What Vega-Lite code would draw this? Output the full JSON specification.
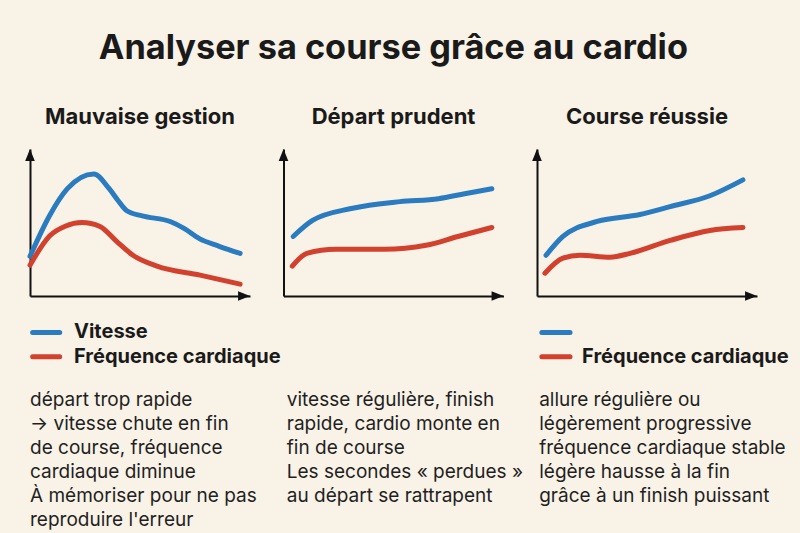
{
  "$schema": "https://vega.github.io/schema/vega-lite/v6.json",
  "background": "#f9f2e7",
  "padding": {"left": 20, "top": 31, "right": 60, "bottom": 30},
  "title": {"text": "Analyser sa course grâce au cardio", "fontSize": 34.3, "font": "Inter", "fontWeight": "bold", "color": "#1a1a1a", "anchor": "middle", "offset": 40, "dx": -11},
  "datasets": {
    "curves": [
      {"panel": "A", "series": "Vitesse", "t": 0, "v": 2.7},
      {"panel": "A", "series": "Vitesse", "t": 0.9, "v": 5.5},
      {"panel": "A", "series": "Vitesse", "t": 1.7, "v": 7.3},
      {"panel": "A", "series": "Vitesse", "t": 2.9, "v": 8.3},
      {"panel": "A", "series": "Vitesse", "t": 3.6, "v": 7.3},
      {"panel": "A", "series": "Vitesse", "t": 4.0, "v": 6.5},
      {"panel": "A", "series": "Vitesse", "t": 4.4, "v": 5.8},
      {"panel": "A", "series": "Vitesse", "t": 5.1, "v": 5.45},
      {"panel": "A", "series": "Vitesse", "t": 6.4, "v": 5.05},
      {"panel": "A", "series": "Vitesse", "t": 7.0, "v": 4.6},
      {"panel": "A", "series": "Vitesse", "t": 7.7, "v": 3.9},
      {"panel": "A", "series": "Vitesse", "t": 8.6, "v": 3.38},
      {"panel": "A", "series": "Vitesse", "t": 9.55, "v": 2.9},
      {"panel": "A", "series": "Fréquence cardiaque", "t": 0, "v": 2.1},
      {"panel": "A", "series": "Fréquence cardiaque", "t": 0.9, "v": 4.1},
      {"panel": "A", "series": "Fréquence cardiaque", "t": 1.6, "v": 4.75},
      {"panel": "A", "series": "Fréquence cardiaque", "t": 2.36, "v": 5.0},
      {"panel": "A", "series": "Fréquence cardiaque", "t": 3.18, "v": 4.73},
      {"panel": "A", "series": "Fréquence cardiaque", "t": 3.95, "v": 3.7},
      {"panel": "A", "series": "Fréquence cardiaque", "t": 4.68, "v": 2.77},
      {"panel": "A", "series": "Fréquence cardiaque", "t": 5.77, "v": 2.03},
      {"panel": "A", "series": "Fréquence cardiaque", "t": 7.73, "v": 1.42},
      {"panel": "A", "series": "Fréquence cardiaque", "t": 9.55, "v": 0.81},
      {"panel": "B", "series": "Vitesse", "t": 0.44, "v": 4.05},
      {"panel": "B", "series": "Vitesse", "t": 1.32, "v": 5.14},
      {"panel": "B", "series": "Vitesse", "t": 3.08, "v": 5.95},
      {"panel": "B", "series": "Vitesse", "t": 5.29, "v": 6.42},
      {"panel": "B", "series": "Vitesse", "t": 7.05, "v": 6.62},
      {"panel": "B", "series": "Vitesse", "t": 8.24, "v": 6.96},
      {"panel": "B", "series": "Vitesse", "t": 9.47, "v": 7.3},
      {"panel": "B", "series": "Fréquence cardiaque", "t": 0.4, "v": 2.03},
      {"panel": "B", "series": "Fréquence cardiaque", "t": 1.06, "v": 2.9},
      {"panel": "B", "series": "Fréquence cardiaque", "t": 2.38, "v": 3.18},
      {"panel": "B", "series": "Fréquence cardiaque", "t": 4.58, "v": 3.18},
      {"panel": "B", "series": "Fréquence cardiaque", "t": 6.48, "v": 3.45},
      {"panel": "B", "series": "Fréquence cardiaque", "t": 7.93, "v": 4.05},
      {"panel": "B", "series": "Fréquence cardiaque", "t": 9.47, "v": 4.66},
      {"panel": "C", "series": "Vitesse", "t": 0.41, "v": 2.77},
      {"panel": "C", "series": "Vitesse", "t": 1.18, "v": 4.05},
      {"panel": "C", "series": "Vitesse", "t": 2.73, "v": 5.07},
      {"panel": "C", "series": "Vitesse", "t": 4.68, "v": 5.54},
      {"panel": "C", "series": "Vitesse", "t": 6.05, "v": 6.08},
      {"panel": "C", "series": "Vitesse", "t": 7.86, "v": 6.82},
      {"panel": "C", "series": "Vitesse", "t": 9.36, "v": 7.9},
      {"panel": "C", "series": "Fréquence cardiaque", "t": 0.36, "v": 1.55},
      {"panel": "C", "series": "Fréquence cardiaque", "t": 1.18, "v": 2.57},
      {"panel": "C", "series": "Fréquence cardiaque", "t": 1.95, "v": 2.77},
      {"panel": "C", "series": "Fréquence cardiaque", "t": 3.32, "v": 2.64},
      {"panel": "C", "series": "Fréquence cardiaque", "t": 4.23, "v": 2.9},
      {"panel": "C", "series": "Fréquence cardiaque", "t": 6.05, "v": 3.78},
      {"panel": "C", "series": "Fréquence cardiaque", "t": 7.86, "v": 4.46},
      {"panel": "C", "series": "Fréquence cardiaque", "t": 9.36, "v": 4.66}
    ],
    "legend": [
      {"panel": "A", "row": 1, "series": "Vitesse", "label": "Vitesse"},
      {"panel": "A", "row": 2, "series": "Fréquence cardiaque", "label": "Fréquence cardiaque"},
      {"panel": "C", "row": 1, "series": "Vitesse", "label": ""},
      {"panel": "C", "row": 2, "series": "Fréquence cardiaque", "label": "Fréquence cardiaque"}
    ],
    "notes": [
      {"panel": "A", "line": 1, "text": "départ trop rapide"},
      {"panel": "A", "line": 2, "text": "→ vitesse chute en fin"},
      {"panel": "A", "line": 3, "text": "de course, fréquence"},
      {"panel": "A", "line": 4, "text": "cardiaque diminue"},
      {"panel": "A", "line": 5, "text": "À mémoriser pour ne pas"},
      {"panel": "A", "line": 6, "text": "reproduire l'erreur"},
      {"panel": "B", "line": 1, "text": "vitesse régulière, finish"},
      {"panel": "B", "line": 2, "text": "rapide, cardio monte en"},
      {"panel": "B", "line": 3, "text": "fin de course"},
      {"panel": "B", "line": 4, "text": "Les secondes « perdues »"},
      {"panel": "B", "line": 5, "text": "au départ se rattrapent"},
      {"panel": "C", "line": 1, "text": "allure régulière ou"},
      {"panel": "C", "line": 2, "text": "légèrement progressive"},
      {"panel": "C", "line": 3, "text": "fréquence cardiaque stable"},
      {"panel": "C", "line": 4, "text": "légère hausse à la fin"},
      {"panel": "C", "line": 5, "text": "grâce à un finish puissant"}
    ]
  },
  "bounds": "flush",
  "columns": 3,
  "spacing": {"row": 0, "column": 33.5},
  "concat": [
    {
      "title": {"text": "Mauvaise gestion"},
      "width": 220, "height": 147,
      "layer": [
        {"data": {"name": "curves"}, "transform": [{"filter": "datum.panel == 'A'"}],
         "mark": {"type": "line", "strokeWidth": 5, "strokeCap": "round", "interpolate": "monotone"},
         "encoding": {
           "x": {"field": "t", "type": "quantitative", "scale": {"domain": [0, 10]}, "axis": {"title": null}},
           "y": {"field": "v", "type": "quantitative", "scale": {"domain": [0, 10]}, "axis": {"title": null}},
           "color": {"field": "series", "type": "nominal", "scale": {"domain": ["Vitesse", "Fréquence cardiaque"], "range": ["#2a7bbf", "#d2412e"]}, "legend": null}
         }},
        {"data": {"values": [{}]}, "mark": {"type": "point", "shape": "M0,-1L-0.8,1L0.8,1Z", "filled": true, "size": 144, "color": "#111", "opacity": 1},
         "encoding": {"x": {"datum": 0, "type": "quantitative"}, "y": {"datum": 9.59, "type": "quantitative"}}},
        {"data": {"values": [{}]}, "mark": {"type": "point", "shape": "M1,0L-1,-0.8L-1,0.8Z", "filled": true, "size": 144, "color": "#111", "opacity": 1},
         "encoding": {"x": {"datum": 9.73, "type": "quantitative"}, "y": {"datum": 0, "type": "quantitative"}}}
      ]
    },
    {
      "title": {"text": "Départ prudent"},
      "width": 220, "height": 147,
      "layer": [
        {"data": {"name": "curves"}, "transform": [{"filter": "datum.panel == 'B'"}],
         "mark": {"type": "line", "strokeWidth": 5, "strokeCap": "round", "interpolate": "monotone"},
         "encoding": {
           "x": {"field": "t", "type": "quantitative", "scale": {"domain": [0, 10]}, "axis": {"title": null}},
           "y": {"field": "v", "type": "quantitative", "scale": {"domain": [0, 10]}, "axis": {"title": null}},
           "color": {"field": "series", "type": "nominal", "scale": {"domain": ["Vitesse", "Fréquence cardiaque"], "range": ["#2a7bbf", "#d2412e"]}, "legend": null}
         }},
        {"data": {"values": [{}]}, "mark": {"type": "point", "shape": "M0,-1L-0.8,1L0.8,1Z", "filled": true, "size": 144, "color": "#111", "opacity": 1},
         "encoding": {"x": {"datum": 0, "type": "quantitative"}, "y": {"datum": 9.59, "type": "quantitative"}}},
        {"data": {"values": [{}]}, "mark": {"type": "point", "shape": "M1,0L-1,-0.8L-1,0.8Z", "filled": true, "size": 144, "color": "#111", "opacity": 1},
         "encoding": {"x": {"datum": 9.73, "type": "quantitative"}, "y": {"datum": 0, "type": "quantitative"}}}
      ]
    },
    {
      "title": {"text": "Course réussie"},
      "width": 220, "height": 147,
      "layer": [
        {"data": {"name": "curves"}, "transform": [{"filter": "datum.panel == 'C'"}],
         "mark": {"type": "line", "strokeWidth": 5, "strokeCap": "round", "interpolate": "monotone"},
         "encoding": {
           "x": {"field": "t", "type": "quantitative", "scale": {"domain": [0, 10]}, "axis": {"title": null}},
           "y": {"field": "v", "type": "quantitative", "scale": {"domain": [0, 10]}, "axis": {"title": null}},
           "color": {"field": "series", "type": "nominal", "scale": {"domain": ["Vitesse", "Fréquence cardiaque"], "range": ["#2a7bbf", "#d2412e"]}, "legend": null}
         }},
        {"data": {"values": [{}]}, "mark": {"type": "point", "shape": "M0,-1L-0.8,1L0.8,1Z", "filled": true, "size": 144, "color": "#111", "opacity": 1},
         "encoding": {"x": {"datum": 0, "type": "quantitative"}, "y": {"datum": 9.59, "type": "quantitative"}}},
        {"data": {"values": [{}]}, "mark": {"type": "point", "shape": "M1,0L-1,-0.8L-1,0.8Z", "filled": true, "size": 144, "color": "#111", "opacity": 1},
         "encoding": {"x": {"datum": 9.73, "type": "quantitative"}, "y": {"datum": 0, "type": "quantitative"}}}
      ]
    },
    {
      "width": 220, "height": 97,
      "data": {"name": "legend"}, "transform": [{"filter": "datum.panel == 'A'"}],
      "layer": [
        {"mark": {"type": "rule", "strokeWidth": 5, "strokeCap": "round"},
         "encoding": {
           "x": {"datum": 0.12, "type": "quantitative", "scale": {"domain": [0, 10]}, "axis": null},
           "x2": {"datum": 1.35},
           "y": {"field": "row", "type": "quantitative", "scale": {"domain": [-0.236, 3.291], "reverse": true}, "axis": null},
           "color": {"field": "series", "type": "nominal", "scale": {"domain": ["Vitesse", "Fréquence cardiaque"], "range": ["#2a7bbf", "#d2412e"]}, "legend": null}
         }},
        {"mark": {"type": "text", "align": "left", "baseline": "middle", "fontSize": 20, "fontWeight": "bold", "font": "Inter", "color": "#1a1a1a"},
         "encoding": {
           "x": {"datum": 2.0, "type": "quantitative"},
           "y": {"field": "row", "type": "quantitative"},
           "text": {"field": "label"}
         }}
      ]
    },
    {
      "width": 220, "height": 97,
      "data": {"name": "legend"}, "transform": [{"filter": "datum.panel == 'B'"}],
      "mark": {"type": "rule", "strokeWidth": 5, "strokeCap": "round"},
      "encoding": {
        "x": {"datum": 0.12, "type": "quantitative", "scale": {"domain": [0, 10]}, "axis": null},
        "x2": {"datum": 1.35},
        "y": {"field": "row", "type": "quantitative", "scale": {"domain": [-0.236, 3.291], "reverse": true}, "axis": null},
        "color": {"field": "series", "type": "nominal", "scale": {"domain": ["Vitesse", "Fréquence cardiaque"], "range": ["#2a7bbf", "#d2412e"]}, "legend": null}
      }
    },
    {
      "width": 220, "height": 97,
      "data": {"name": "legend"}, "transform": [{"filter": "datum.panel == 'C'"}],
      "layer": [
        {"mark": {"type": "rule", "strokeWidth": 5, "strokeCap": "round"},
         "encoding": {
           "x": {"datum": 0.22, "type": "quantitative", "scale": {"domain": [0, 10]}, "axis": null},
           "x2": {"datum": 1.5},
           "y": {"field": "row", "type": "quantitative", "scale": {"domain": [-0.236, 3.291], "reverse": true}, "axis": null},
           "color": {"field": "series", "type": "nominal", "scale": {"domain": ["Vitesse", "Fréquence cardiaque"], "range": ["#2a7bbf", "#d2412e"]}, "legend": null}
         }},
        {"mark": {"type": "text", "align": "left", "baseline": "middle", "fontSize": 20, "fontWeight": "bold", "font": "Inter", "color": "#1a1a1a"},
         "encoding": {
           "x": {"datum": 2.05, "type": "quantitative"},
           "y": {"field": "row", "type": "quantitative"},
           "text": {"field": "label"}
         }}
      ]
    },
    {
      "width": 220, "height": 134,
      "data": {"name": "notes"}, "transform": [{"filter": "datum.panel == 'A'"}],
      "mark": {"type": "text", "align": "left", "baseline": "middle", "fontSize": 19, "font": "Inter", "color": "#1f1f1f"},
      "encoding": {
        "x": {"datum": 0, "type": "quantitative", "scale": {"domain": [0, 10]}, "axis": null},
        "y": {"field": "line", "type": "ordinal", "scale": {"type": "point", "domain": [1, 2, 3, 4, 5, 6], "padding": 0.29}, "axis": null},
        "text": {"field": "text"}
      }
    },
    {
      "width": 220, "height": 134,
      "data": {"name": "notes"}, "transform": [{"filter": "datum.panel == 'B'"}],
      "mark": {"type": "text", "align": "left", "baseline": "middle", "fontSize": 19, "font": "Inter", "color": "#1f1f1f"},
      "encoding": {
        "x": {"datum": 0.15, "type": "quantitative", "scale": {"domain": [0, 10]}, "axis": null},
        "y": {"field": "line", "type": "ordinal", "scale": {"type": "point", "domain": [1, 2, 3, 4, 5, 6], "padding": 0.29}, "axis": null},
        "text": {"field": "text"}
      }
    },
    {
      "width": 220, "height": 134,
      "data": {"name": "notes"}, "transform": [{"filter": "datum.panel == 'C'"}],
      "mark": {"type": "text", "align": "left", "baseline": "middle", "fontSize": 19, "font": "Inter", "color": "#1f1f1f"},
      "encoding": {
        "x": {"datum": 0.1, "type": "quantitative", "scale": {"domain": [0, 10]}, "axis": null},
        "y": {"field": "line", "type": "ordinal", "scale": {"type": "point", "domain": [1, 2, 3, 4, 5, 6], "padding": 0.29}, "axis": null},
        "text": {"field": "text"}
      }
    }
  ],
  "config": {
    "view": {"stroke": null},
    "font": "Inter",
    "title": {"fontSize": 22, "fontWeight": "bold", "font": "Inter", "color": "#1a1a1a", "anchor": "middle", "offset": 20},
    "axis": {"domain": true, "domainColor": "#111", "domainWidth": 2, "ticks": false, "labels": false, "grid": false, "title": null}
  }
}
